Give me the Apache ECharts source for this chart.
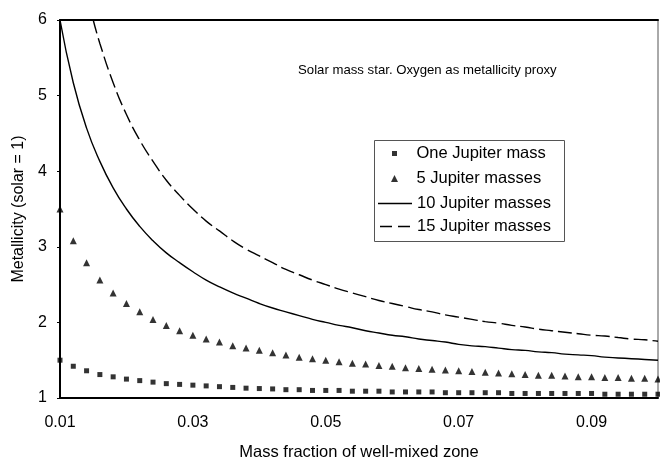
<!DOCTYPE html>
<html><head><meta charset="utf-8">
<script src="https://cdn.jsdelivr.net/npm/echarts@6/dist/echarts.min.js"></script>
<style>html,body{margin:0;padding:0;background:#fff}#c{width:660px;height:466px}</style>
</head><body><div id="c"></div>
<script>
var xMain = [0.010,0.012,0.014,0.016,0.018,0.020,0.022,0.024,0.026,0.028,0.030,0.032,0.034,0.036,0.038,0.040,0.042,0.044,0.046,0.048,0.050,0.052,0.054,0.056,0.058,0.060,0.062,0.064,0.066,0.068,0.070,0.072,0.074,0.076,0.078,0.080,0.082,0.084,0.086,0.088,0.090,0.092,0.094,0.096,0.098,0.100];
var oneJupiter = [1.50,1.42,1.36,1.31,1.28,1.25,1.23,1.21,1.19,1.18,1.17,1.16,1.15,1.14,1.13,1.125,1.12,1.11,1.11,1.10,1.10,1.10,1.09,1.09,1.09,1.08,1.08,1.08,1.08,1.07,1.07,1.07,1.07,1.07,1.06,1.06,1.06,1.06,1.06,1.06,1.06,1.05,1.05,1.05,1.05,1.05];
var fiveJupiter = [3.50,3.08,2.79,2.56,2.39,2.25,2.14,2.04,1.96,1.89,1.83,1.78,1.74,1.69,1.66,1.63,1.60,1.57,1.54,1.52,1.50,1.48,1.46,1.45,1.43,1.42,1.40,1.39,1.38,1.37,1.36,1.35,1.34,1.33,1.32,1.31,1.30,1.30,1.29,1.28,1.28,1.27,1.27,1.26,1.26,1.25];
var tenJupiter = [6.00,5.17,4.57,4.13,3.78,3.50,3.27,3.08,2.92,2.79,2.67,2.56,2.47,2.39,2.32,2.25,2.19,2.14,2.09,2.04,2.00,1.96,1.93,1.89,1.86,1.83,1.81,1.78,1.76,1.74,1.71,1.69,1.68,1.66,1.64,1.63,1.61,1.60,1.58,1.57,1.56,1.54,1.53,1.52,1.51,1.50];
var xFifteen = [0.015,0.016,0.018,0.020,0.022,0.024,0.026,0.028,0.030,0.032,0.034,0.036,0.038,0.040,0.042,0.044,0.046,0.048,0.050,0.052,0.054,0.056,0.058,0.060,0.062,0.064,0.066,0.068,0.070,0.072,0.074,0.076,0.078,0.080,0.082,0.084,0.086,0.088,0.090,0.092,0.094,0.096,0.098,0.100];
var fifteenJupiter = [6.00,5.69,5.17,4.75,4.41,4.13,3.88,3.68,3.50,3.34,3.21,3.08,2.97,2.88,2.79,2.70,2.63,2.56,2.50,2.44,2.39,2.34,2.29,2.25,2.21,2.17,2.14,2.10,2.07,2.04,2.01,1.99,1.96,1.94,1.91,1.89,1.87,1.85,1.83,1.82,1.80,1.78,1.77,1.75];
var xTicks = [0.01,0.03,0.05,0.07,0.09];
var seriesNames = ['One Jupiter mass','5 Jupiter masses','10 Jupiter masses','15 Jupiter masses'];
var chartTitle = 'Solar mass star. Oxygen as metallicity proxy';
var xTitle = 'Mass fraction of well-mixed zone';
var yTitle = 'Metallicity (solar = 1)';

function pairs(xs, ys){ return xs.map(function(x,i){ return [x, ys[i]]; }); }
var FONT = 'Liberation Sans';
var legendIcons = [
  {icon: 'path://M0,0h1v1h-1z', h: 5, left: 392},
  {icon: 'path://M0,1L0.5,0L1,1z', h: 7, left: 391},
  {icon: 'path://M0,0h34v1.5h-34z', h: 1.5, left: 378},
  {icon: 'path://M0,0h12v1.5h-12zM18,0h12v1.5h-12z', h: 1.5, left: 380}
];
var legendTops = [145, 170, 195, 218];
var legends = seriesNames.map(function(n, i){
  return {
    orient: 'vertical', left: legendIcons[i].left, top: legendTops[i], padding: 0,
    itemWidth: 34, itemHeight: legendIcons[i].h, symbolKeepAspect: true,
    selectedMode: false,
    textStyle: {fontFamily: FONT, fontSize: 16.5, color: '#000'},
    data: [{name: n, icon: legendIcons[i].icon}]
  };
});

var chart = echarts.init(document.getElementById('c'));
chart.setOption({
  animation: false,
  textStyle: {fontFamily: FONT, color: '#000'},
  grid: {left: 60, right: 2, top: 20, bottom: 66, show: true, borderColor: '#555', borderWidth: 1},
  title: {text: chartTitle, left: 298, top: 64, padding: 0,
    textStyle: {fontFamily: FONT, fontSize: 13.2, fontWeight: 'normal', color: '#000'}},
  legend: legends,
  graphic: [{type: 'rect', left: 372, top: 138, shape: {width: 190, height: 101},
    style: {fill: 'none', stroke: '#555', lineWidth: 1}, silent: true}],
  xAxis: [{
    type: 'value', min: 0.01, max: 0.1, interval: 0.02,
    name: xTitle, nameLocation: 'middle', nameGap: 46,
    nameTextStyle: {fontFamily: FONT, fontSize: 16.5, color: '#000'},
    axisLine: {lineStyle: {color: '#000', width: 2}},
    axisTick: {show: false},
    splitLine: {show: false},
    axisLabel: {fontFamily: FONT, fontSize: 16, color: '#000', margin: 17,
      showMaxLabel: false,
      formatter: function(v){ var s = v.toFixed(2); return xTicks.some(function(t){return Math.abs(t-v)<1e-9;}) ? s : ''; }}
  }, {
    type: 'value', position: 'top', min: 0.01, max: 0.1,
    axisLine: {lineStyle: {color: '#000', width: 2}},
    axisTick: {show: false}, axisLabel: {show: false}, splitLine: {show: false}
  }],
  yAxis: {
    type: 'value', min: 1, max: 6, interval: 1,
    name: yTitle, nameLocation: 'middle', nameGap: 33,
    nameTextStyle: {fontFamily: FONT, fontSize: 16, color: '#000'},
    axisLine: {lineStyle: {color: '#000', width: 2}},
    axisTick: {show: true, length: 3, lineStyle: {color: '#000'}},
    splitLine: {show: false},
    axisLabel: {fontFamily: FONT, fontSize: 16, color: '#000', margin: 13}
  },
  series: [
    {name: seriesNames[0], type: 'scatter', symbol: 'rect', symbolSize: 5,
      itemStyle: {color: '#000'}, data: pairs(xMain, oneJupiter)},
    {name: seriesNames[1], type: 'scatter', symbol: 'triangle', symbolSize: 7,
      itemStyle: {color: '#000'}, data: pairs(xMain, fiveJupiter)},
    {name: seriesNames[2], type: 'line', symbol: 'none', smooth: true,
      lineStyle: {color: '#000', width: 1.4}, itemStyle: {color: '#000'}, data: pairs(xMain, tenJupiter)},
    {name: seriesNames[3], type: 'line', symbol: 'none', smooth: true,
      lineStyle: {color: '#000', width: 1.4, type: [14, 5]}, itemStyle: {color: '#000'}, data: pairs(xFifteen, fifteenJupiter)}
  ]
});
</script></body></html>
